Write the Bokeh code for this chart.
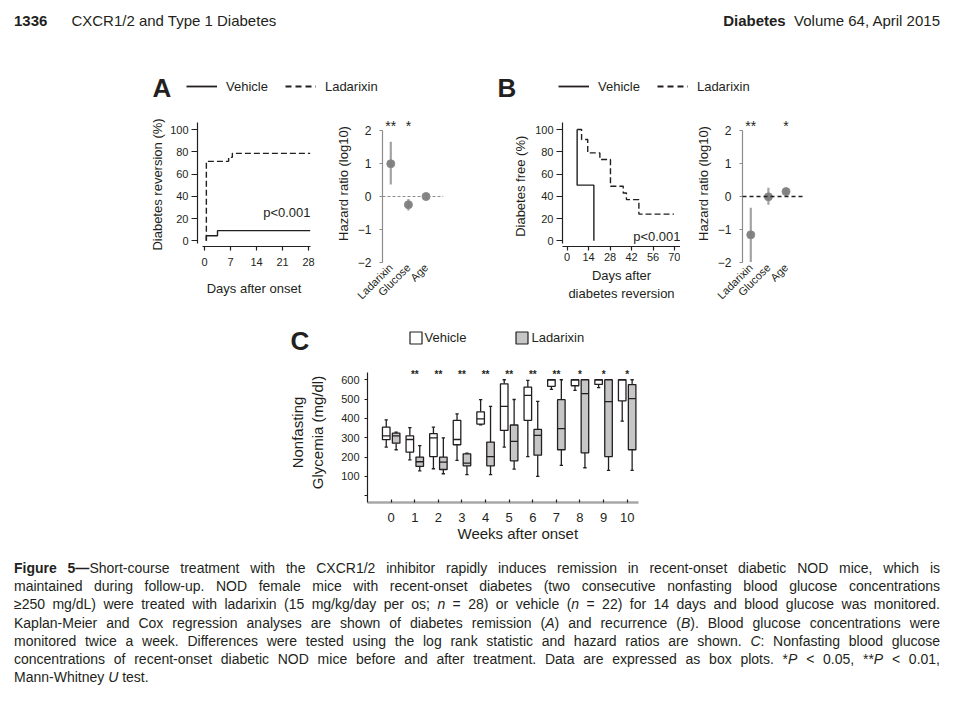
import math
from bokeh.plotting import figure
from bokeh.layouts import column, row
from bokeh.models import (Div, Spacer, Legend, LegendItem, Label, Span, FixedTicker, Title)
from bokeh.embed import file_html
from bokeh.resources import INLINE
from bokeh.core.properties import value

FONT = "Liberation Sans"
INK = "#231f20"
NAN = float("nan")

# ---------------- data ----------------
# Panel A - Kaplan-Meier, diabetes reversion (%)
a_vehicle_days = [0.5, 0.5, 3.5, 28.5]
a_vehicle_pct = [0, 4.5, 9.1, 9.1]
a_ladarixin_days = [0.5, 0.5, 6.5, 7.5, 28.5]
a_ladarixin_pct = [0, 71.4, 75.0, 78.6, 78.6]
a_day_ticks = [0, 7, 14, 21, 28]

# Panel B - Kaplan-Meier, diabetes free (%)
b_vehicle_days = [6.6, 6.6, 17.5, 17.5]
b_vehicle_pct = [100, 50, 50, 0]
b_ladarixin_days = [6.6, 9.5, 13.5, 21.4, 28.3, 36.6, 38.7, 46.8, 69.6]
b_ladarixin_pct = [100, 91, 79, 73, 49, 43, 37, 24, 24]
b_day_ticks = [0, 14, 28, 42, 56, 70]
pct_ticks = [0, 20, 40, 60, 80, 100]

# Cox regression, hazard ratio (log10)
hr_factors = ["Ladarixin", "Glucose", "Age"]
a_hr = [1.00, -0.25, 0.00]
a_hr_low = [0.37, -0.43, -0.03]
a_hr_high = [1.67, -0.08, 0.03]
a_hr_stars = ["**", "*", ""]
b_hr = [-1.17, -0.01, 0.15]
b_hr_low = [-2.00, -0.25, 0.08]
b_hr_high = [-0.34, 0.27, 0.23]
b_hr_stars = ["**", "", "*"]
hr_ticks = [-2, -1, 0, 1, 2]

# Panel C - nonfasting glycemia (mg/dl) box plots
weeks = [0, 1, 2, 3, 4, 5, 6, 7, 8, 9, 10]
veh_low = [252, 186, 140, 183, 367, 252, 203, 550, 545, 559, 386]
veh_q1 = [290, 226, 203, 264, 371, 338, 390, 566, 569, 576, 491]
veh_med = [310, 291, 300, 291, 398, 462, 519, 600, 600, 600, 600]
veh_q3 = [355, 310, 321, 390, 434, 579, 562, 600, 600, 600, 600]
veh_high = [393, 352, 355, 424, 497, 600, 597, 600, 600, 600, 600]
lad_low = [238, 129, 114, 110, 110, 138, 100, 157, 145, 131, 131]
lad_q1 = [272, 152, 136, 155, 155, 181, 210, 238, 222, 203, 238]
lad_med = [310, 176, 174, 169, 203, 281, 312, 347, 528, 487, 502]
lad_q3 = [324, 200, 200, 217, 278, 366, 343, 497, 600, 600, 575]
lad_high = [329, 259, 300, 221, 462, 498, 488, 600, 600, 600, 600]
c_stars = ["", "**", "**", "**", "**", "**", "**", "**", "*", "*", "*"]
glyc_ticks = [0, 100, 200, 300, 400, 500, 600]

LAD_FILL = "#c6c6c6"


def new_fig(**kw):
    p = figure(output_backend="svg", toolbar_location=None, frame_align=False, **kw)
    p.outline_line_color = None
    p.xgrid.visible = False
    p.ygrid.visible = False
    p.background_fill_color = None
    p.border_fill_color = None
    return p


def style_axis(ax, tick_px, label_px):
    ax.major_label_text_font = FONT
    ax.major_label_text_font_size = tick_px
    ax.major_label_text_color = INK
    ax.axis_label_text_font = FONT
    ax.axis_label_text_font_size = label_px
    ax.axis_label_text_font_style = "normal"
    ax.axis_label_text_color = INK
    ax.minor_tick_line_color = None
    ax.major_tick_in = 0
    ax.axis_line_color = INK
    ax.major_tick_line_color = INK
    ax.axis_line_width = 1.2
    ax.major_tick_line_width = 1.2


def side_title(p, side, text, size, align, offset, standoff, valign):
    t = Title(text=text, align=align, offset=offset, standoff=standoff,
              vertical_align=valign, text_font=FONT, text_font_size=size,
              text_font_style="normal", text_color=INK)
    p.add_layout(t, side)
    return t


def legend_fig(width, height, letter, letter_x, letter_y, items, loc,
               glyph_w, glyph_h, standoff, spacing):
    p = new_fig(width=width, height=height, x_range=(0, 1), y_range=(0, 1),
                x_axis_location=None, y_axis_location=None, min_border=0)
    litems = []
    for lab, kind in items:
        # legend keys only (no data point is drawn)
        if kind == "solid":
            r = p.line(x=[NAN], y=[NAN], line_color=INK, line_width=1.8)
        elif kind == "dashed":
            r = p.line(x=[NAN], y=[NAN], line_color=INK, line_width=1.8, line_dash="6 4")
        else:
            r = p.vbar(x=[NAN], top=[NAN], width=1, fill_color=kind, line_color=INK,
                       line_width=1.2)
        litems.append(LegendItem(label=lab, renderers=[r]))
    lg = Legend(items=litems, orientation="horizontal", location=loc,
                glyph_width=glyph_w, glyph_height=glyph_h, label_standoff=standoff,
                spacing=spacing, padding=0, margin=0, border_line_color=None,
                background_fill_alpha=0, label_text_font=FONT,
                label_text_font_size="13px", label_text_color=INK,
                label_height=glyph_h)
    p.add_layout(lg)
    p.add_layout(Label(x=letter_x, y=letter_y, x_units="screen", y_units="screen",
                       text=letter, text_font=FONT, text_font_size="26px",
                       text_font_style="bold", text_color=INK,
                       text_baseline="middle"))
    return p


def km_fig(width, xr, minb, vd, vp, ld, lp, xticks, xbounds, xlabel, tick_standoff,
           label_standoff, ylabel_standoff, p_y):
    p = new_fig(width=width, height=206, x_range=xr, y_range=(-5.12, 106.3),
                min_border_left=minb[0], min_border_right=minb[1],
                min_border_top=18, min_border_bottom=64)
    p.step(vd, vp, mode="after", line_color=INK, line_width=1.4)
    p.step(ld, lp, mode="after", line_color=INK, line_width=1.4, line_dash="6 3")
    for ax in p.axis:
        style_axis(ax, "11px", "13px")
    p.xaxis.ticker = FixedTicker(ticks=xticks)
    p.yaxis.ticker = FixedTicker(ticks=pct_ticks)
    p.xaxis.bounds = xbounds
    p.yaxis.bounds = (-2.4, 106.3)
    p.xaxis.major_tick_out = 4
    p.yaxis.major_tick_out = 6
    p.yaxis.major_label_standoff = 3
    p.xaxis.major_label_standoff = tick_standoff
    p.xaxis.axis_label = xlabel
    p.xaxis.axis_label_standoff = label_standoff
    p.yaxis.axis_label_standoff = ylabel_standoff
    p.add_layout(Label(x=xr[1], y=p_y, text="p<0.001", text_align="right",
                       text_baseline="middle",
                       text_font=FONT, text_font_size="13px", text_color=INK))
    return p


def forest_fig(width, minb_left, minb_right, hr, lo, hi, stars, zero_color, zero_dash,
               zero_w):
    xs = list(range(1, len(hr_factors) + 1))
    p = new_fig(width=width, height=206, x_range=(0.53, 3.99), y_range=(-2.015, 2.809),
                min_border_left=minb_left, min_border_right=minb_right,
                min_border_top=0, min_border_bottom=48)
    p.add_layout(Span(location=0, dimension="width", line_color=zero_color,
                      line_dash=zero_dash, line_width=zero_w))
    p.segment(x0=xs, y0=lo, x1=xs, y1=hi, line_color="#a3a3a3", line_width=2.2)
    p.scatter(xs, hr, size=8, fill_color="#7d7d7d", line_color="#8a8a8a",
              line_width=1, fill_alpha=0.95)
    p.text(x=xs, y=[2.14] * len(xs), text=stars, text_align="center",
           text_baseline="middle", text_font=value(FONT),
           text_font_size="14px", text_color=INK)
    for ax in p.axis:
        style_axis(ax, "12px", "13px")
    p.yaxis.ticker = FixedTicker(ticks=hr_ticks)
    p.yaxis.bounds = (-2, 2)
    p.yaxis.axis_line_color = "#8c8c8c"
    p.yaxis.major_tick_line_color = "#8c8c8c"
    p.yaxis.major_tick_out = 3
    p.yaxis.major_label_standoff = 8
    side_title(p, "left", "Hazard ratio (log10)", "13px", "center", 0, 8, "bottom")
    p.xaxis.ticker = FixedTicker(ticks=xs)
    p.xaxis.major_label_overrides = {x: f for x, f in zip(xs, hr_factors)}
    p.xaxis.major_label_orientation = math.pi / 4
    p.xaxis.major_label_text_font_size = "11px"
    p.xaxis.axis_line_color = None
    p.xaxis.major_tick_line_color = None
    p.xaxis.major_tick_out = 0
    p.xaxis.major_label_standoff = 3
    return p


# ---------------- panel A / B ----------------
legA = legend_fig(345, 38, "A", 7, 17, [("Vehicle", "solid"), ("Ladarixin", "dashed")],
                  (41, 8), 31, 20, 9, 17)
legB = legend_fig(340, 38, "B", 7, 17, [("Vehicle", "solid"), ("Ladarixin", "dashed")],
                  (68, 8), 31, 20, 9, 17)

kmA = km_fig(182, (-1.885, 28.54), (62, 7), a_vehicle_days, a_vehicle_pct,
             a_ladarixin_days, a_ladarixin_pct, a_day_ticks, (-0.6, 28.5),
             "Days after onset", 7, 12, 2, 25.4)
kmA.yaxis.axis_label = "Diabetes reversion (%)"

kmB = km_fig(190, (-2.93, 73.9), (72, 0), b_vehicle_days, b_vehicle_pct,
             b_ladarixin_days, b_ladarixin_pct, b_day_ticks, "auto",
             "Days after\ndiabetes reversion", 2, 4, 4, 3.9)
kmB.yaxis.axis_label = "Diabetes free  (%)"

frA = forest_fig(173, 65, 47, a_hr, a_hr_low, a_hr_high, a_hr_stars, "#8c8c8c", "3 2", 1)
frB = forest_fig(150, 62, 27, b_hr, b_hr_low, b_hr_high, b_hr_stars, INK, "4 3", 1.3)

# ---------------- panel C ----------------
legC = legend_fig(380, 42, "C", 10, 18, [("Vehicle", "white"), ("Ladarixin", LAD_FILL)],
                  (127.5, 13.5), 15, 15, 2, 48)

pc = new_fig(width=380, height=194, x_range=(-1.004, 10.48), y_range=(-34.6, 689.2),
             min_border_left=87, min_border_right=22, min_border_top=4,
             min_border_bottom=50)
OFF = 0.21
BW = 0.32
CAP = 0.07


def boxes(p, xs, lo, q1, med, q3, hi, fill):
    p.segment(x0=xs, y0=lo, x1=xs, y1=q1, line_color=INK, line_width=1.3)
    p.segment(x0=xs, y0=q3, x1=xs, y1=hi, line_color=INK, line_width=1.3)
    p.segment(x0=[x - CAP for x in xs], y0=lo, x1=[x + CAP for x in xs], y1=lo,
              line_color=INK, line_width=1.3)
    p.segment(x0=[x - CAP for x in xs], y0=hi, x1=[x + CAP for x in xs], y1=hi,
              line_color=INK, line_width=1.3)
    p.vbar(x=xs, width=BW, bottom=q1, top=q3, fill_color=fill, line_color=INK,
           line_width=1.3)
    p.segment(x0=[x - BW / 2 for x in xs], y0=med, x1=[x + BW / 2 for x in xs], y1=med,
              line_color=INK, line_width=1.3)


boxes(pc, [w - OFF for w in weeks], veh_low, veh_q1, veh_med, veh_q3, veh_high, "white")
boxes(pc, [w + OFF for w in weeks], lad_low, lad_q1, lad_med, lad_q3, lad_high, LAD_FILL)
pc.text(x=weeks, y=[625] * len(weeks), text=c_stars, text_align="center",
        text_baseline="middle", text_font=value(FONT), text_font_size="10px",
        text_font_style="bold", text_color=INK)
for ax in pc.axis:
    style_axis(ax, "11px", "15px")
pc.yaxis.ticker = FixedTicker(ticks=glyc_ticks)
pc.yaxis.major_label_overrides = {0: ""}
pc.yaxis.bounds = (-34.6, 639)
pc.yaxis.major_tick_out = 3
pc.yaxis.major_label_standoff = 5
pc.yaxis.axis_label = "Nonfasting\nGlycemia (mg/dl)"
pc.yaxis.axis_label_standoff = 12
pc.xaxis.ticker = FixedTicker(ticks=weeks)
pc.xaxis.major_label_text_font_size = "13px"
pc.xaxis.axis_line_color = "#a8a8a8"
pc.xaxis.axis_line_width = 2.5
pc.xaxis.major_tick_in = 3
pc.xaxis.major_tick_out = 0
pc.xaxis.major_label_standoff = 10
side_title(pc, "below", "Weeks after onset", "15px", "left", 90, 0, "top")

# ---------------- texts ----------------
TXT = f"font-family:'{FONT}',Arial,sans-serif;color:{INK};"
header = Div(text=(
    f'<div style="{TXT}font-size:15px;line-height:17px;width:926px;margin-left:6px;'
    'padding-top:4px;display:flex;justify-content:space-between;white-space:nowrap">'
    '<span><b>1336</b><span style="margin-left:24px">CXCR1/2 and Type 1 Diabetes</span></span>'
    '<span><b>Diabetes</b>&nbsp; Volume 64, April 2015</span></div>'),
    width=954, height=40, margin=0)

caption_lines = [
    "<b>Figure 5\u2014</b>Short-course treatment with the CXCR1/2 inhibitor rapidly induces remission in recent-onset diabetic NOD mice, which is",
    "maintained during follow-up. NOD female mice with recent-onset diabetes (two consecutive nonfasting blood glucose concentrations",
    "\u2265250 mg/dL) were treated with ladarixin (15 mg/kg/day per os; <i>n</i> = 28) or vehicle (<i>n</i> = 22) for 14 days and blood glucose was monitored.",
    "Kaplan-Meier and Cox regression analyses are shown of diabetes remission (<i>A</i>) and recurrence (<i>B</i>). Blood glucose concentrations were",
    "monitored twice a week. Differences were tested using the log rank statistic and hazard ratios are shown. <i>C</i>: Nonfasting blood glucose",
    "concentrations of recent-onset diabetic NOD mice before and after treatment. Data are expressed as box plots. *<i>P</i> &lt; 0.05, **<i>P</i> &lt; 0.01,",
    "Mann-Whitney <i>U</i> test.",
]
cap_html = "".join(
    f'<div style="text-align:justify;text-align-last:justify">{l}</div>' for l in caption_lines[:-1]
) + f'<div>{caption_lines[-1]}</div>'
caption = Div(text=(f'<div style="{TXT}font-size:14px;line-height:18.2px;width:926px;'
                    f'padding-top:7px">{cap_html}</div>'),
              width=926, height=145, margin=0)

inner = column(
    header,
    Spacer(width=10, height=18, margin=0),
    row(Spacer(width=137, height=38, margin=0), legA, legB),
    row(Spacer(width=127, height=206, margin=0), kmA, frA, kmB, frB),
    Spacer(width=10, height=6, margin=0),
    row(Spacer(width=272, height=42, margin=0), legC),
    row(Spacer(width=272, height=194, margin=0), pc),
    row(Spacer(width=6, height=145, margin=0), caption),
)
layout = column(Spacer(width=10, height=8, margin=0),
                row(Spacer(width=8, height=10, margin=0), inner))

with open("out.html", "w", encoding="utf-8") as f:
    f.write(file_html(layout, INLINE))
